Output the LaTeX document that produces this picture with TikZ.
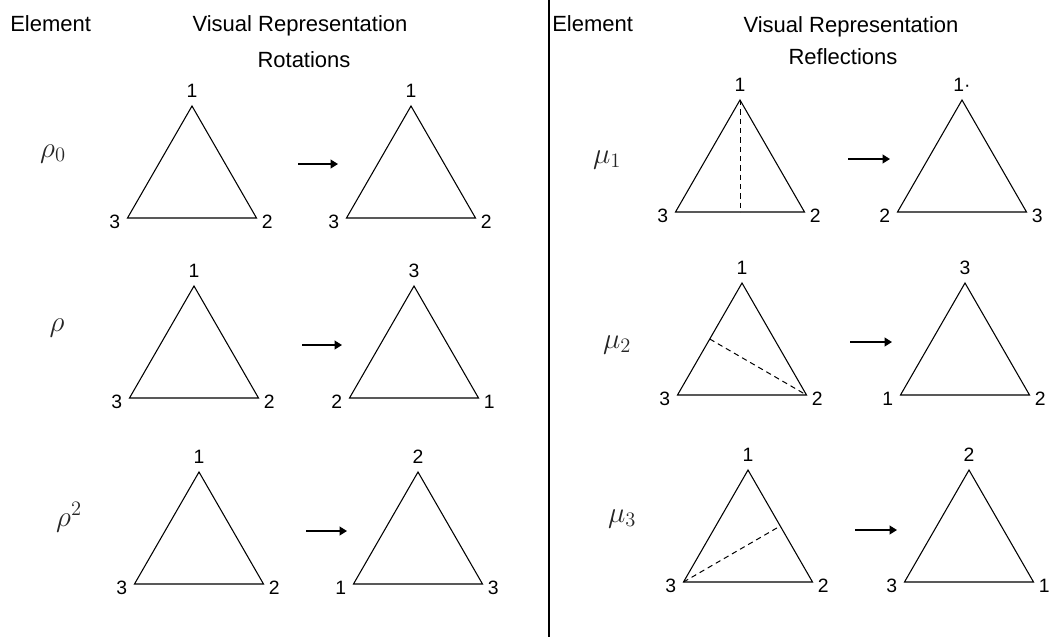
\RequirePackage{fix-cm}
\documentclass[tikz,border=0pt]{standalone}
\usepackage{fontspec}
\setmainfont{Liberation Sans}
\usepackage{tikz}
\usetikzlibrary{positioning,arrows.meta,calc}
\definecolor{ink}{HTML}{000000}
\tikzset{
  hdr/.style  = {inner sep=0pt, font=\fontsize{16.5}{20}\selectfont, text=ink},
  num/.style  = {inner sep=0pt, font=\fontsize{14.5}{17}\selectfont, text=ink},
  elem/.style = {inner sep=0pt, font=\fontsize{22}{26}\selectfont, text=ink!85},
  tri/.style  = {line width=0.8pt, draw=ink, line join=miter},
  axis/.style = {line width=0.75pt, draw=ink, dash pattern=on 4pt off 3pt},
  ar/.style   = {-{Triangle[length=5.5pt,width=6.5pt]}, line width=1.2pt, draw=ink},
  sep/.style  = {line width=1.2pt, draw=ink},
}
% triangle: name, apex x, apex y, top label, left label, right label
\newcommand{\trig}[6]{%
  \coordinate (#1t) at (#2,#3);
  \coordinate (#1l) at ($(#1t)+(-64.5,112)$);
  \coordinate (#1r) at ($(#1t)+(64.5,112)$);
  \draw[tri] (#1t) -- (#1r) -- (#1l) -- cycle;
  \node[num, anchor=south] (#1-top) at ($(#1t)+(0,-8)$) {#4};
  \node[num, anchor=east] (#1-left) at ($(#1l)+(-7,4)$) {#5};
  \node[num, anchor=west] (#1-right) at ($(#1r)+(5,4)$) {#6};
}

\begin{document}
\begin{tikzpicture}[x=0.75pt, y=-0.75pt]
  \useasboundingbox (0,0) rectangle (1064,637);

  \node[hdr, anchor=base west] (elemL) at (10,31) {Element};
  \node[hdr, anchor=base] (visL) at (300,31) {Visual Representation};
  \node[hdr, anchor=base] (rotL) at (304,67) {Rotations};
  \node[hdr, anchor=base west] (elemR) at (552,31) {Element};
  \node[hdr, anchor=base] (visR) at (851,32) {Visual Representation};
  \node[hdr, anchor=base] (refR) at (843,64) {Reflections};

  \coordinate (septop) at (549,0);
  \coordinate (sepbot) at (549,637);
  \draw[sep] (septop) -- (sepbot);

  % rotations
  \node[elem] (r0) at (53,154) {$\rho_0$};
  \trig{r0a}{192}{106}{1}{3}{2}
  \trig{r0b}{411}{106}{1}{3}{2}
  \coordinate (r0s) at (298,164); \coordinate (r0e) at (338,164);
  \draw[ar] (r0s) -- (r0e);

  \node[elem] (r1) at (57,328) {$\rho$};
  \trig{r1a}{194}{286}{1}{3}{2}
  \trig{r1b}{414}{286}{3}{2}{1}
  \coordinate (r1s) at (302,345); \coordinate (r1e) at (342,345);
  \draw[ar] (r1s) -- (r1e);

  \node[elem] (r2) at (69,517) {$\rho^2$};
  \trig{r2a}{199}{472}{1}{3}{2}
  \trig{r2b}{418}{472}{2}{1}{3}
  \coordinate (r2s) at (306,531); \coordinate (r2e) at (347,531);
  \draw[ar] (r2s) -- (r2e);

  % reflections
  \node[elem] (m1) at (607,160) {$\mu_1$};
  \trig{m1a}{740}{100}{1}{3}{2}
  \trig{m1b}{962}{100}{1·}{2}{3}
  \coordinate (m1mid) at ($(m1al)!0.5!(m1ar)$);
  \draw[axis] (m1at) -- (m1mid);
  \coordinate (m1s) at (848,159); \coordinate (m1e) at (890,159);
  \draw[ar] (m1s) -- (m1e);

  \node[elem] (m2) at (617,345) {$\mu_2$};
  \trig{m2a}{742}{283}{1}{3}{2}
  \trig{m2b}{965}{283}{3}{1}{2}
  \coordinate (m2mid) at ($(m2al)!0.5!(m2at)$);
  \draw[axis] (m2mid) -- (m2ar);
  \coordinate (m2s) at (850,342); \coordinate (m2e) at (892,342);
  \draw[ar] (m2s) -- (m2e);

  \node[elem] (m3) at (622,519) {$\mu_3$};
  \trig{m3a}{748}{470}{1}{3}{2}
  \trig{m3b}{969}{470}{2}{3}{1}
  \coordinate (m3mid) at ($(m3at)!0.5!(m3ar)$);
  \draw[axis] (m3al) -- (m3mid);
  \coordinate (m3s) at (855,530); \coordinate (m3e) at (897,530);
  \draw[ar] (m3s) -- (m3e);
\end{tikzpicture}
\end{document}
